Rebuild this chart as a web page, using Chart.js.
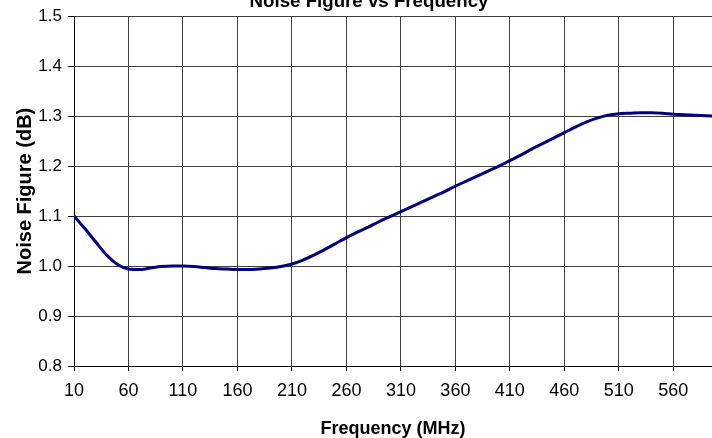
<!DOCTYPE html>
<html>
<head>
<meta charset="utf-8">
<script src="https://cdn.jsdelivr.net/npm/chart.js@4/dist/chart.umd.min.js"></script>
<style>
html,body{margin:0;padding:0;background:#fff;overflow:hidden;}
#wrap{width:712px;height:438px;position:relative;}
</style>
</head>
<body>
<div id="wrap"><canvas id="c" width="712" height="438"></canvas></div>
<script>
const chartTitle = "Noise Figure vs Frequency";
const xTitle = "Frequency (MHz)";
const yTitle = "Noise Figure (dB)";
const frequency = [10,20,30,40,50,60,70,80,90,100,110,120,130,140,150,160,170,180,190,200,
  210,220,230,240,250,260,270,280,290,300,310,320,330,340,350,360,370,380,390,400,
  410,420,430,440,450,460,470,480,490,500,510,520,530,540,550,560,570,580,590,600];
const noiseFigure = [1.100,1.075,1.048,1.022,1.003,0.994,0.993,0.996,0.999,1.000,1.000,0.999,0.997,0.995,0.994,0.993,0.993,0.994,0.996,0.999,
  1.004,1.012,1.022,1.033,1.045,1.057,1.068,1.078,1.089,1.099,1.109,1.119,1.129,1.139,1.149,1.160,1.170,1.180,1.190,1.200,
  1.211,1.222,1.234,1.245,1.256,1.267,1.278,1.288,1.296,1.302,1.305,1.306,1.307,1.307,1.306,1.304,1.303,1.302,1.301,1.300];
const xTicks = [10,60,110,160,210,260,310,360,410,460,510,560];
const yTicks = [0.8,0.9,1.0,1.1,1.2,1.3,1.4,1.5];

const FONT = "'Liberation Sans', Arial, sans-serif";

const titlePlugin = {
  id: 'fixedTitle',
  afterDraw(chart) {
    const ctx = chart.ctx;
    ctx.save();
    ctx.font = "bold 18.7px " + FONT;
    ctx.fillStyle = "#000";
    ctx.textAlign = "center";
    ctx.textBaseline = "alphabetic";
    ctx.fillText(chartTitle, 369, 7);
    ctx.restore();
  }
};

new Chart(document.getElementById('c'), {
  type: 'line',
  data: {
    datasets: [{
      data: frequency.map((f, i) => ({x: f, y: noiseFigure[i]})),
      borderColor: '#000080',
      borderWidth: 3,
      pointRadius: 0,
      tension: 0.4,
      cubicInterpolationMode: 'monotone',
      fill: false
    }]
  },
  options: {
    responsive: false,
    animation: false,
    layout: { padding: { top: 16, right: 0, left: 0, bottom: 0 } },
    plugins: { legend: { display: false }, tooltip: { enabled: false }, title: { display: false } },
    scales: {
      x: {
        type: 'linear',
        min: 10,
        max: 595.5,
        afterBuildTicks(scale) { scale.ticks = xTicks.map(v => ({value: v})); },
        afterFit(scale) { scale.height = 72; },
        grid: { color: '#404040', lineWidth: 1, tickLength: 5, drawTicks: true, tickColor: '#000' },
        border: { color: '#000', width: 1 },
        ticks: { color: '#000', font: { family: FONT, size: 18 }, padding: 9, maxRotation: 0, autoSkip: false },
        title: { display: true, text: xTitle, color: '#000', font: { family: FONT, size: 18, weight: 'bold', lineHeight: 1 }, padding: { top: 0, bottom: 0 } }
      },
      y: {
        min: 0.8,
        max: 1.5,
        afterBuildTicks(scale) { scale.ticks = yTicks.map(v => ({value: v})); },
        afterFit(scale) { scale.width = 74; },
        grid: { color: '#404040', lineWidth: 1, tickLength: 6, tickColor: '#000' },
        border: { color: '#000', width: 1 },
        ticks: { color: '#000', font: { family: FONT, size: 17 }, padding: 6, callback: v => Number(v).toFixed(1) },
        title: { display: true, text: yTitle, color: '#000', font: { family: FONT, size: 20, weight: 'bold', lineHeight: 1.2 }, padding: { top: 13, bottom: 0 } }
      }
    }
  },
  plugins: [titlePlugin]
});
</script>
</body>
</html>
